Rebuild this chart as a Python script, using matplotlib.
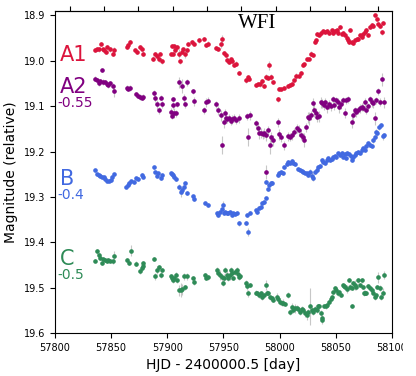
import matplotlib
matplotlib.use('Agg')
import matplotlib.pyplot as plt
from matplotlib.transforms import Bbox

# A1 light curve
A1_day = [57835.6, 57837.4, 57839.2, 57841.0, 57842.7, 57843.6, 57845.4, 57846.3, 57849.0, 57851.6, 57852.5,
          57864.1, 57865.0, 57866.8, 57871.2, 57873.0, 57875.7, 57877.4, 57878.3,
          57887.2, 57889.0, 57890.8, 57892.6, 57893.5, 57895.3,
          57903.3, 57904.2, 57905.0, 57905.6, 57906.8, 57908.6, 57910.4, 57911.3, 57913.0, 57913.9,
          57915.7, 57917.5, 57918.4, 57922.0, 57923.7, 57928.2,
          57932.6, 57934.4, 57936.5, 57943.3, 57945.4, 57947.5, 57948.4, 57950.7, 57952.0, 57953.4,
          57955.2, 57956.4, 57957.8, 57959.6, 57960.9, 57964.1, 57970.0, 57971.5, 57973.0, 57978.9,
          57980.4, 57982.5, 57984.0, 57986.0, 57987.8, 57989.3, 57990.8, 57992.3, 57993.8, 57998.2,
          57999.7, 58001.2, 58003.9, 58007.2, 58009.2, 58011.2, 58013.0, 58014.5, 58017.2, 58019.0,
          58020.5, 58021.9, 58024.6, 58026.4, 58027.9, 58029.9, 58031.5, 58032.3, 58033.5, 58035.0,
          58036.8, 58038.8, 58040.4, 58041.9, 58044.2, 58046.3, 58047.7, 58049.3, 58050.8, 58052.2,
          58053.7, 58055.2, 58056.6, 58058.2, 58059.7, 58060.6, 58061.7, 58062.6, 58064.1, 58065.6,
          58067.1, 58068.6, 58070.0, 58071.5, 58073.0, 58074.4, 58075.9, 58077.4, 58078.9, 58080.4,
          58081.9, 58083.3, 58084.9, 58086.4, 58087.8, 58089.3, 58090.8, 58092.3]
A1_mag = [18.977, 18.973, 18.975, 18.962, 18.973, 18.977, 18.981, 18.970, 18.975, 18.984, 18.977,
          18.970, 18.966, 18.959, 18.977, 18.981, 18.970, 18.975, 18.984,
          18.995, 18.984, 18.990, 18.997, 18.984, 19.001,
          18.984, 18.968, 18.984, 18.967, 18.977, 18.970, 18.984, 19.001, 18.981, 18.975,
          18.984, 18.977, 18.964, 18.959, 18.962, 18.955,
          18.951, 18.966, 18.962, 18.972, 18.975, 18.964, 18.953, 18.983, 18.988, 18.999,
          19.003, 18.997, 19.000, 19.010, 19.006, 19.027, 19.043, 19.036, 19.041, 19.054,
          19.050, 19.052, 19.045, 19.055, 19.036, 19.037, 19.010, 19.036, 19.047, 19.085,
          19.061, 19.063, 19.059, 19.056, 19.054, 19.050, 19.043, 19.034, 19.034, 19.027,
          19.010, 19.008, 18.997, 18.995, 18.984, 18.988, 18.959, 18.955, 18.940, 18.942,
          18.939, 18.934, 18.937, 18.934, 18.939, 18.933, 18.938, 18.934, 18.931, 18.938,
          18.926, 18.940, 18.939, 18.942, 18.949, 18.955, 18.959, 18.933, 18.959, 18.961,
          18.955, 18.953, 18.951, 18.944, 18.948, 18.940, 18.937, 18.931, 18.942, 18.926,
          18.920, 18.924, 18.900, 18.907, 18.918, 18.924, 18.937, 18.917]
A1_err = [0.004, 0.004, 0.005, 0.004, 0.004, 0.005, 0.004, 0.004, 0.006, 0.005, 0.008,
          0.004, 0.005, 0.004, 0.004, 0.005, 0.004, 0.004, 0.006,
          0.006, 0.004, 0.005, 0.006, 0.004, 0.005,
          0.004, 0.004, 0.004, 0.004, 0.005, 0.004, 0.010, 0.006, 0.004, 0.004,
          0.010, 0.005, 0.004, 0.004, 0.004, 0.005,
          0.004, 0.004, 0.005, 0.004, 0.004, 0.008, 0.010, 0.005, 0.004, 0.005,
          0.004, 0.004, 0.005, 0.004, 0.006, 0.004, 0.005, 0.004, 0.004, 0.004,
          0.004, 0.005, 0.004, 0.004, 0.006, 0.005, 0.010, 0.006, 0.005, 0.005,
          0.004, 0.004, 0.004, 0.004, 0.004, 0.005, 0.004, 0.008, 0.004, 0.004,
          0.004, 0.004, 0.004, 0.004, 0.005, 0.004, 0.004, 0.004, 0.004, 0.004,
          0.004, 0.004, 0.004, 0.004, 0.004, 0.004, 0.004, 0.004, 0.004, 0.004,
          0.004, 0.004, 0.004, 0.004, 0.004, 0.006, 0.005, 0.004, 0.004, 0.004,
          0.004, 0.004, 0.004, 0.004, 0.004, 0.004, 0.004, 0.004, 0.004, 0.004,
          0.004, 0.004, 0.004, 0.004, 0.004, 0.004, 0.006, 0.005]

# A2 light curve (shifted by -0.55)
A2_day = [57835.6, 57837.6, 57838.9, 57840.1, 57842.1, 57843.0, 57844.8, 57846.0, 57847.4, 57849.0, 57851.4, 57852.5,
          57863.8, 57865.2, 57866.8, 57872.1, 57874.1, 57875.7, 57877.2, 57878.6,
          57888.1, 57889.0, 57890.5, 57892.8, 57894.1, 57895.0,
          57903.2, 57904.4, 57904.8, 57905.3, 57906.2, 57907.4, 57908.3, 57910.6, 57912.8, 57914.8,
          57916.0, 57917.2, 57923.1, 57924.0,
          57932.6, 57934.4, 57936.4, 57943.3, 57945.3, 57947.5, 57948.9, 57950.4, 57951.3, 57952.2,
          57953.3, 57955.1, 57956.4, 57957.8, 57959.6, 57961.1, 57964.0, 57970.6, 57972.0, 57973.6,
          57978.9, 57980.4, 57981.8, 57983.3, 57984.9, 57986.3, 57987.5, 57987.8, 57989.8, 57991.4,
          57992.2, 57993.8, 57998.2, 57999.6, 58001.1, 58003.8, 58007.1, 58009.2, 58011.2, 58013.0,
          58015.1, 58017.2, 58018.9, 58020.5, 58021.9, 58023.4, 58024.9, 58026.3, 58027.8, 58029.9,
          58030.8, 58032.3, 58033.4, 58035.0, 58036.5, 58037.9, 58039.4, 58040.9, 58042.3, 58044.1,
          58045.6, 58047.2, 58048.6, 58050.1, 58051.6, 58053.0, 58054.5, 58056.1, 58058.1, 58059.6,
          58061.0, 58064.1, 58065.5, 58067.0, 58068.5, 58070.0, 58071.5, 58073.0, 58074.4, 58075.9,
          58077.4, 58078.9, 58080.4, 58081.9, 58083.3, 58084.8, 58086.3, 58087.8, 58089.3, 58091.3,
          58093.1]
A2_mag = [19.039, 19.043, 19.049, 19.045, 19.021, 19.047, 19.047, 19.050, 19.054, 19.049, 19.056, 19.067,
          19.059, 19.061, 19.060, 19.074, 19.077, 19.080, 19.081, 19.080,
          19.071, 19.083, 19.096, 19.109, 19.081, 19.096,
          19.113, 19.122, 19.085, 19.098, 19.115, 19.116, 19.096, 19.047, 19.056, 19.083,
          19.096, 19.047, 19.067, 19.089,
          19.109, 19.091, 19.088, 19.096, 19.109, 19.120, 19.186, 19.135, 19.116, 19.127,
          19.129, 19.125, 19.133, 19.129, 19.126, 19.131, 19.127, 19.122, 19.168, 19.120,
          19.138, 19.148, 19.160, 19.159, 19.162, 19.159, 19.245, 19.164, 19.153, 19.186,
          19.168, 19.175, 19.135, 19.162, 19.168, 19.186, 19.166, 19.168, 19.164, 19.157,
          19.149, 19.153, 19.164, 19.168, 19.175, 19.146, 19.124, 19.127, 19.120, 19.094,
          19.109, 19.115, 19.124, 19.122, 19.091, 19.094, 19.098, 19.091, 19.102, 19.096,
          19.100, 19.085, 19.098, 19.087, 19.091, 19.102, 19.096, 19.087, 19.115, 19.087,
          19.085, 19.135, 19.120, 19.109, 19.113, 19.109, 19.105, 19.102, 19.103, 19.091,
          19.109, 19.100, 19.085, 19.091, 19.094, 19.127, 19.087, 19.067, 19.091, 19.041,
          19.091]
A2_err = [0.005, 0.005, 0.006, 0.005, 0.004, 0.006, 0.005, 0.005, 0.006, 0.005, 0.008, 0.012,
          0.006, 0.005, 0.006, 0.005, 0.005, 0.006, 0.005, 0.006,
          0.006, 0.008, 0.010, 0.008, 0.006, 0.007,
          0.008, 0.007, 0.006, 0.008, 0.010, 0.007, 0.006, 0.012, 0.015, 0.010,
          0.008, 0.008, 0.006, 0.010,
          0.008, 0.010, 0.008, 0.008, 0.010, 0.012, 0.020, 0.012, 0.010, 0.010,
          0.008, 0.008, 0.008, 0.010, 0.008, 0.008, 0.010, 0.008, 0.020, 0.010,
          0.008, 0.010, 0.012, 0.010, 0.010, 0.010, 0.015, 0.012, 0.010, 0.020,
          0.012, 0.012, 0.010, 0.012, 0.010, 0.010, 0.010, 0.008, 0.010, 0.008,
          0.010, 0.012, 0.010, 0.010, 0.015, 0.010, 0.012, 0.015, 0.010, 0.012,
          0.015, 0.010, 0.010, 0.012, 0.012, 0.010, 0.010, 0.010, 0.012, 0.010,
          0.010, 0.008, 0.010, 0.008, 0.008, 0.012, 0.010, 0.008, 0.010, 0.008,
          0.008, 0.012, 0.010, 0.008, 0.010, 0.008, 0.010, 0.008, 0.008, 0.010,
          0.008, 0.008, 0.008, 0.010, 0.010, 0.015, 0.008, 0.008, 0.008, 0.015,
          0.012]

# B light curve (shifted by -0.4)
B_day = [57836.0, 57837.5, 57839.0, 57840.5, 57842.0, 57843.5, 57845.0, 57846.5, 57848.0, 57849.5, 57851.0, 57852.5,
         57863.2, 57864.7, 57865.9, 57867.6, 57870.6, 57872.1, 57873.6, 57877.2, 57878.1,
         57888.1, 57889.0, 57890.5, 57891.9, 57894.1, 57895.0,
         57903.0, 57904.4, 57905.3, 57906.2, 57907.7, 57910.6, 57911.9, 57913.3, 57914.8, 57915.7,
         57917.2, 57922.6, 57924.0, 57933.5, 57936.4,
         57943.9, 57945.3, 57946.9, 57948.4, 57949.8, 57950.7, 57951.3, 57952.8, 57954.2, 57955.8,
         57957.3, 57958.7, 57960.2, 57961.7, 57963.8, 57969.7, 57970.6, 57972.0, 57973.6,
         57978.6, 57980.0, 57981.6, 57983.1, 57984.5, 57986.0, 57987.5, 57988.1, 57989.3, 57990.7,
         57992.2, 57993.4, 57998.2, 57999.6, 58001.1, 58002.7, 58004.1, 58006.2, 58007.6, 58009.2,
         58010.7, 58012.1, 58013.6, 58016.5, 58018.1, 58019.6, 58021.0, 58022.5, 58024.0, 58025.4,
         58027.0, 58028.5, 58029.9, 58031.4, 58032.9, 58034.3, 58035.9, 58037.4, 58038.8, 58040.3,
         58041.8, 58043.2, 58044.8, 58046.3, 58047.7, 58049.2, 58050.7, 58052.1, 58053.7, 58055.2,
         58056.6, 58058.1, 58059.0, 58060.1, 58061.9, 58063.2, 58064.1, 58065.5, 58067.0, 58068.5,
         58069.9, 58071.5, 58073.0, 58074.4, 58075.9, 58077.4, 58078.8, 58080.4, 58081.9, 58083.3,
         58084.8, 58085.7, 58087.2, 58088.6, 58090.1, 58091.7, 58092.8]
B_mag = [19.241, 19.250, 19.252, 19.254, 19.257, 19.256, 19.261, 19.265, 19.265, 19.263, 19.256, 19.250,
         19.278, 19.274, 19.269, 19.265, 19.267, 19.258, 19.261, 19.252, 19.256,
         19.235, 19.245, 19.254, 19.248, 19.259, 19.252,
         19.247, 19.250, 19.252, 19.257, 19.261, 19.278, 19.289, 19.285, 19.278, 19.270,
         19.291, 19.298, 19.305, 19.314, 19.318,
         19.335, 19.340, 19.333, 19.327, 19.318, 19.335, 19.333, 19.336, 19.335, 19.333,
         19.340, 19.336, 19.338, 19.335, 19.358, 19.357, 19.340, 19.377, 19.335,
         19.329, 19.333, 19.325, 19.322, 19.314, 19.311, 19.303, 19.267, 19.283, 19.274,
         19.270, 19.269, 19.252, 19.248, 19.245, 19.247, 19.234, 19.228, 19.223, 19.225,
         19.221, 19.226, 19.228, 19.239, 19.241, 19.243, 19.245, 19.247, 19.248, 19.252,
         19.245, 19.254, 19.259, 19.245, 19.241, 19.234, 19.232, 19.219, 19.223, 19.225,
         19.219, 19.215, 19.219, 19.217, 19.211, 19.210, 19.213, 19.204, 19.208, 19.203,
         19.211, 19.206, 19.215, 19.203, 19.206, 19.210, 19.219, 19.211, 19.208, 19.204,
         19.201, 19.204, 19.197, 19.193, 19.197, 19.188, 19.182, 19.186, 19.188, 19.175,
         19.168, 19.157, 19.160, 19.146, 19.142, 19.166, 19.164]
B_err = [0.003, 0.003, 0.003, 0.004, 0.003, 0.003, 0.004, 0.003, 0.003, 0.003, 0.004, 0.003,
         0.003, 0.004, 0.003, 0.003, 0.004, 0.003, 0.003, 0.004, 0.003,
         0.004, 0.003, 0.003, 0.004, 0.003, 0.003,
         0.003, 0.003, 0.004, 0.003, 0.004, 0.006, 0.010, 0.008, 0.005, 0.004,
         0.004, 0.003, 0.004, 0.004, 0.004,
         0.004, 0.004, 0.004, 0.004, 0.010, 0.004, 0.004, 0.004, 0.004, 0.004,
         0.005, 0.004, 0.004, 0.004, 0.005, 0.005, 0.004, 0.008, 0.004,
         0.004, 0.004, 0.004, 0.004, 0.004, 0.004, 0.004, 0.004, 0.004, 0.006,
         0.004, 0.004, 0.004, 0.004, 0.004, 0.004, 0.004, 0.004, 0.004, 0.004,
         0.004, 0.004, 0.004, 0.004, 0.004, 0.004, 0.004, 0.004, 0.004, 0.004,
         0.006, 0.008, 0.006, 0.005, 0.004, 0.004, 0.004, 0.004, 0.004, 0.004,
         0.004, 0.004, 0.004, 0.004, 0.004, 0.004, 0.004, 0.004, 0.004, 0.004,
         0.004, 0.004, 0.004, 0.004, 0.004, 0.004, 0.005, 0.004, 0.004, 0.004,
         0.004, 0.004, 0.004, 0.004, 0.004, 0.004, 0.004, 0.004, 0.004, 0.005,
         0.004, 0.006, 0.005, 0.006, 0.005, 0.008, 0.006]

# C light curve (shifted by -0.5)
C_day = [57835.6, 57837.6, 57838.9, 57840.1, 57841.6, 57843.0, 57844.5, 57846.0, 57847.4, 57849.0, 57851.4, 57852.5,
         57863.8, 57865.9, 57867.4, 57872.1, 57875.7, 57877.2, 57878.1, 57878.6,
         57888.1, 57889.0, 57890.5, 57892.8, 57894.1, 57895.0,
         57903.0, 57904.4, 57905.3, 57906.2, 57907.7, 57908.3, 57910.6, 57911.9, 57913.3, 57914.8,
         57916.0, 57917.2, 57923.1, 57924.0, 57933.5, 57934.4, 57936.4, 57943.9, 57945.3, 57946.9,
         57948.4, 57949.3, 57950.7,
         57951.3, 57952.8, 57954.2, 57955.8, 57956.6, 57957.8, 57958.7, 57960.2, 57961.7, 57962.6,
         57963.8, 57964.7, 57969.7, 57970.6, 57972.0, 57973.6, 57978.6, 57980.0, 57981.6, 57983.1,
         57984.5, 57986.0, 57987.5, 57988.4, 57989.8, 57991.4, 57992.9, 57994.3, 57997.3, 57998.7,
         58000.3, 58001.8, 58003.2, 58004.7, 58007.6, 58009.2, 58010.7, 58012.1, 58013.6, 58015.1,
         58016.5, 58018.1, 58019.6, 58021.0, 58022.5, 58024.0, 58025.4, 58027.0,
         58028.5, 58029.9, 58031.4, 58032.9, 58034.3, 58035.2, 58036.5, 58037.4, 58038.2, 58039.4,
         58041.2, 58042.3, 58044.1, 58045.4, 58046.3, 58047.7, 58049.2, 58050.7, 58052.1, 58053.0,
         58054.3, 58056.1, 58057.2, 58058.7, 58060.1, 58061.7, 58062.6, 58064.1, 58064.6, 58065.5,
         58067.0, 58068.5, 58069.9, 58071.5, 58073.0, 58074.4, 58075.3, 58076.5, 58077.4, 58078.8,
         58080.4, 58081.9, 58083.3, 58084.8, 58085.7, 58087.2, 58087.7, 58089.3, 58090.1, 58091.7,
         58092.8]
C_mag = [19.440, 19.420, 19.428, 19.435, 19.445, 19.437, 19.439, 19.440, 19.439, 19.440, 19.442, 19.430,
         19.439, 19.445, 19.418, 19.447, 19.464, 19.457, 19.446, 19.452,
         19.437, 19.475, 19.461, 19.455, 19.472, 19.461,
         19.475, 19.479, 19.483, 19.479, 19.472, 19.484, 19.506, 19.505, 19.503, 19.475,
         19.499, 19.475, 19.479, 19.487, 19.472, 19.479, 19.477, 19.461, 19.467, 19.472,
         19.477, 19.490, 19.479,
         19.461, 19.472, 19.479, 19.472, 19.461, 19.468, 19.479, 19.465, 19.461, 19.470,
         19.477, 19.475, 19.490, 19.496, 19.512, 19.494, 19.511, 19.512, 19.516, 19.512,
         19.520, 19.516, 19.494, 19.511, 19.512, 19.521, 19.523, 19.527, 19.520, 19.525,
         19.531, 19.534, 19.533, 19.536, 19.516, 19.553, 19.542, 19.549, 19.545, 19.544,
         19.547, 19.553, 19.547, 19.549, 19.556, 19.560, 19.553, 19.541,
         19.549, 19.553, 19.547, 19.549, 19.541, 19.541, 19.556, 19.567, 19.571, 19.540,
         19.541, 19.538, 19.531, 19.525, 19.520, 19.509, 19.501, 19.505, 19.512, 19.509,
         19.516, 19.494, 19.496, 19.498, 19.503, 19.483, 19.498, 19.501, 19.540, 19.490,
         19.494, 19.498, 19.484, 19.494, 19.484, 19.498, 19.512, 19.511, 19.512, 19.496,
         19.501, 19.505, 19.511, 19.520, 19.516, 19.498, 19.477, 19.501, 19.520, 19.511,
         19.472]
C_err = [0.004, 0.005, 0.005, 0.004, 0.005, 0.004, 0.004, 0.005, 0.004, 0.004, 0.005, 0.010,
         0.004, 0.005, 0.012, 0.005, 0.005, 0.005, 0.004, 0.005,
         0.005, 0.008, 0.008, 0.006, 0.006, 0.005,
         0.006, 0.005, 0.006, 0.005, 0.006, 0.006, 0.012, 0.015, 0.012, 0.008,
         0.006, 0.008, 0.005, 0.006, 0.005, 0.005, 0.006, 0.006, 0.008, 0.012,
         0.008, 0.006, 0.010,
         0.006, 0.008, 0.006, 0.010, 0.006, 0.006, 0.005, 0.006, 0.006, 0.005,
         0.005, 0.005, 0.006, 0.010, 0.008, 0.005, 0.005, 0.005, 0.006, 0.005,
         0.006, 0.005, 0.012, 0.005, 0.005, 0.006, 0.005, 0.005, 0.008, 0.006,
         0.008, 0.006, 0.008, 0.005, 0.006, 0.006, 0.008, 0.006, 0.010, 0.006,
         0.006, 0.008, 0.006, 0.006, 0.008, 0.010, 0.006, 0.040,
         0.006, 0.008, 0.006, 0.006, 0.006, 0.005, 0.006, 0.008, 0.008, 0.005,
         0.005, 0.005, 0.005, 0.005, 0.005, 0.005, 0.005, 0.005, 0.006, 0.005,
         0.005, 0.005, 0.005, 0.005, 0.008, 0.005, 0.006, 0.005, 0.005, 0.005,
         0.010, 0.006, 0.005, 0.005, 0.005, 0.005, 0.006, 0.005, 0.005, 0.005,
         0.005, 0.006, 0.005, 0.006, 0.005, 0.005, 0.012, 0.006, 0.006, 0.010,
         0.008]

# first day of each month (2017 Mar - Dec), used for the top ticks
month_starts = [57813, 57844, 57874, 57905, 57935, 57966, 57997, 58027, 58058, 58088]

images = [('A1', '', A1_day, A1_mag, A1_err, 'crimson', 19.0),
          ('A2', '-0.55', A2_day, A2_mag, A2_err, 'purple', 19.071),
          ('B', '-0.4', B_day, B_mag, B_err, 'royalblue', 19.274),
          ('C', '-0.5', C_day, C_mag, C_err, 'seagreen', 19.450)]

fig = plt.figure(figsize=(4.16, 3.76), dpi=100)
ax = fig.add_axes([0.132, 0.114, 0.810, 0.857])

for name, shift, day, mag, err, col, ylab in images:
    eb = ax.errorbar(day, mag, yerr=err, fmt='o', ms=2.3, color=col, mec=col,
                     ecolor='0.6', elinewidth=0.8, capsize=0)
    eb[2][0].set_alpha(0.55)
    ax.text(57804.5, ylab, name, color=col, fontsize=15, va='baseline', ha='left')
    if shift:
        ax.text(57801.8, ylab + 0.031, shift, color=col, fontsize=10, va='baseline', ha='left')

ax.text(57980, 18.918, 'WFI', family='Liberation Serif', fontsize=15, ha='center', va='center')

ax.set_xlim(57800, 58100)
ax.set_ylim(19.6, 18.89)
ax.set_xticks([57800, 57850, 57900, 57950, 58000, 58050, 58100])
ax.set_yticks([18.9, 19.0, 19.1, 19.2, 19.3, 19.4, 19.5, 19.6])
ax.tick_params(labelsize=7, direction='out')
ax.set_xlabel('HJD - 2400000.5 [day]', fontsize=10)
ax.set_ylabel('Magnitude (relative)', fontsize=10)

top = ax.secondary_xaxis('top')
top.set_xticks(month_starts)
top.tick_params(labeltop=False, direction='out')

# the original image is cut just after "5810"
last = ax.get_xticklabels()[-1]
last.set_clip_box(Bbox.from_extents(0, 0, 403, 376))
last.set_clip_on(True)

plt.savefig('out.png', dpi=100)
